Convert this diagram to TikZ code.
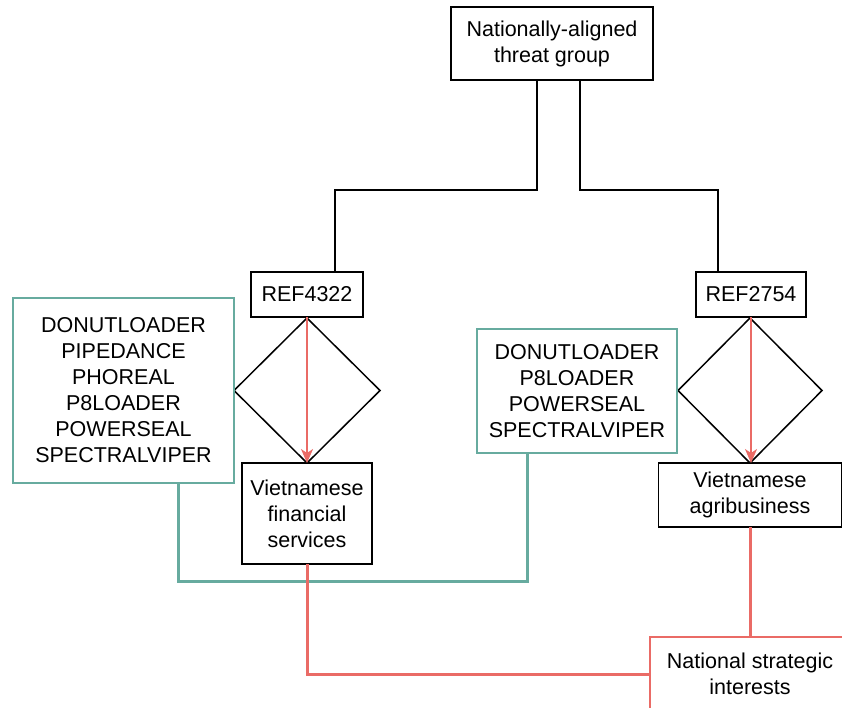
\documentclass[tikz,border=0pt]{standalone}
\usepackage{fontspec}
\setmainfont{Liberation Sans}
\usepackage{tikz}
\usetikzlibrary{positioning,shapes,shapes.geometric,arrows.meta,calc}
\definecolor{tealline}{RGB}{103,171,159}
\definecolor{redline}{RGB}{234,107,102}

\begin{document}
\begin{tikzpicture}[x=1pt,y=-1pt,
    every node/.style={font=\fontsize{21.5}{26}\selectfont, align=center, inner sep=0pt, outer sep=0pt},
    box/.style={draw=black, line width=1.5pt, fill=white},
    malware/.style={draw=tealline, line width=1.5pt, fill=white},
    choice/.style={draw=black, line width=1.5pt, diamond, minimum width=146pt, minimum height=145pt},
    link/.style={draw=black, line width=1.5pt},
    flow/.style={draw=redline, line width=1.5pt, -{Stealth[length=14pt,width=12pt,inset=4pt,fill=redline]}},
    tealpath/.style={draw=tealline, line width=3pt},
    redpath/.style={draw=redline, line width=3pt}]
\clip (0,0) rectangle (842,707);
\useasboundingbox (0,0) rectangle (842,707);
    \node[box, minimum width=202pt, minimum height=73pt] (threat) at (552,43.5) {Nationally-aligned\\threat group};
    \node[box, minimum width=112pt, minimum height=45pt] (ref4322) at (307,294.5) {REF4322};
    \node[box, minimum width=110pt, minimum height=45pt] (ref2754) at (751,294.5) {REF2754};
    \node[choice] (choiceA) at (307,390.5) {};
    \node[choice, minimum width=144pt] (choiceB) at (750,390.5) {};
    \node[box, minimum width=130pt, minimum height=101pt] (financial) at (307,513.5) {Vietnamese\\financial\\services};
    \node[box, minimum width=183pt, minimum height=64pt] (agri) at (750,495) {Vietnamese\\agribusiness};
    \node[malware, minimum width=221pt, minimum height=185pt] (toolsA) at (123.5,390.5) {DONUTLOADER\\PIPEDANCE\\PHOREAL\\P8LOADER\\POWERSEAL\\SPECTRALVIPER};
    \node[malware, minimum width=200pt, minimum height=124pt] (toolsB) at (577,391) {DONUTLOADER\\P8LOADER\\POWERSEAL\\SPECTRALVIPER};
    \node[draw=redline, line width=1.5pt, fill=white, minimum width=200pt, minimum height=74pt] (national) at (750,674) {National strategic\\interests};

    \draw[link] ([xshift=-15pt]threat.south) -- ++(0,110) -| ([xshift=28pt]ref4322.north);
    \draw[link] ([xshift=28pt]threat.south) -- ++(0,110) -| ([xshift=-33pt]ref2754.north);
    \draw[flow] (ref4322.south) -- (financial.north);
    \draw[flow] (ref2754.south) -- (ref2754.south |- agri.north);
    \draw[tealpath] ([xshift=55pt]toolsA.south) -- ++(0,98) -| ([xshift=-50pt]toolsB.south);
    \draw[redpath] (financial.south) |- (national.west);
    \draw[redpath] (agri.south) -- (agri.south |- national.north);
\end{tikzpicture}
\end{document}
